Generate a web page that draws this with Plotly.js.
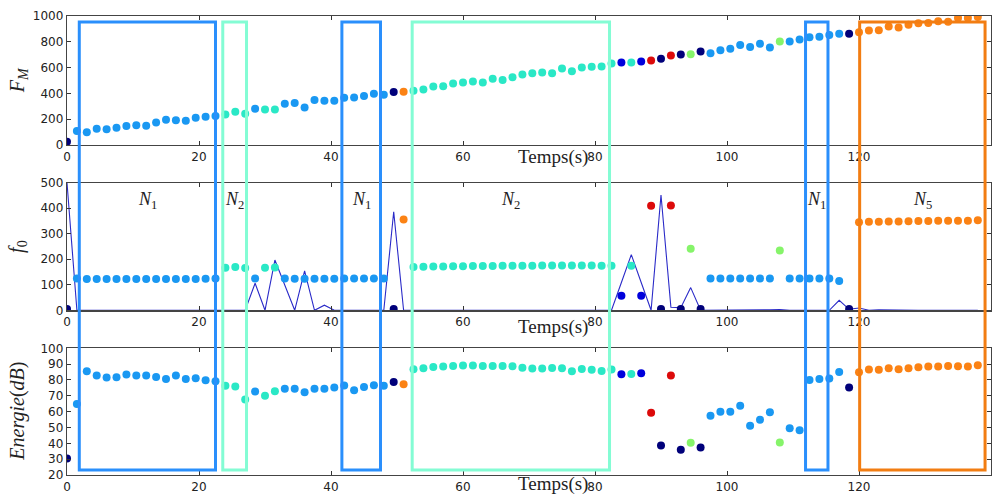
<!DOCTYPE html>
<html>
<head>
<meta charset="utf-8">
<script src="https://cdn.plot.ly/plotly-3.0.1.min.js"></script>
<style>html,body{margin:0;padding:0;background:#fff;}#chart{width:1002px;height:496px;}</style>
</head>
<body>
<div id="chart"></div>
<script>
// ---- data ----
const times = [
  0,1.5,3,4.5,6,7.5,9,10.5,12,13.5,
  15,16.5,18,19.5,21,22.5,24,25.5,27,28.5,
  30,31.5,33,34.5,36,37.5,39,40.5,42,43.5,
  45,46.5,48,49.5,51,52.5,54,55.5,57,58.5,
  60,61.5,63,64.5,66,67.5,69,70.5,72,73.5,
  75,76.5,78,79.5,81,82.5,84,85.5,87,88.5,
  90,91.5,93,94.5,96,97.5,99,100.5,102,103.5,
  105,106.5,108,109.5,111,112.5,114,115.5,117,118.5,
  120,121.5,123,124.5,126,127.5,129,130.5,132,133.5,
  135,136.5,138
];
const fm = [
  26,108,98,126,121,134,147,152,149,175,
  196,191,188,211,219,224,237,258,242,281,
  276,276,320,325,291,348,343,343,366,369,
  379,397,389,410,412,420,430,454,456,477,
  485,492,485,513,503,526,546,557,562,557,
  593,572,601,606,608,631,639,639,647,655,
  668,693,701,704,724,711,735,747,776,760,
  784,755,802,802,817,835,840,853,863,863,
  874,887,889,918,910,933,943,946,959,956,
  985,985,992
];
const f0 = [
  5,125,123,123,123,123,123,123,123,123,
  123,123,123,123,124,125,167,170,166,125,
  167,168,125,124,124,124,124,124,125,125,
  125,125,125,5,356,170,171,172,172,173,
  173,174,174,174,175,175,175,175,176,176,
  176,176,176,176,175,175,57,175,57,410,
  5,411,5,241,5,125,125,125,125,125,
  125,125,234,125,125,125,125,125,115,5,
  345,347,347,348,348,349,350,350,351,351,
  351,351,353
];
const f0raw = [
  500,0,0,0,0,0,0,0,0,0,
  0,0,0,0,0,0,0,0,0,106,
  0,197,98,0,155,0,20,0,0,0,
  0,0,0,386,0,0,0,0,0,0,
  0,0,0,0,0,0,0,0,0,0,
  0,0,0,0,0,0,109,218,109,0,
  452,12,10,89,0,0,0,0,0,0,
  0,2,3,0,0,0,0,0,39,4,
  9,0,2,1,0,0,0,0,0,0,
  0,0,0
];
const energie = [
  30.5,64.9,85.5,82.8,81.5,81.7,83.4,82.8,82.8,81.9,
  80.7,82.8,80.7,81.1,79.8,79.2,76.3,75.9,67.7,72.7,
  70,72.9,74.4,74.4,72.3,74.4,74.4,75.3,76.5,73.5,
  75.6,76.7,76.3,78.8,77.3,86.8,87.4,88.2,88.5,88.9,
  89.1,89.1,88.9,88.9,88.9,88.7,87.8,87.2,87.2,87.6,
  87.4,85.5,87,86.4,85.7,86.6,83.6,83.8,84.3,59.3,
  38.7,82.8,36,40.4,37.4,57.4,59.9,59.9,63.7,51.1,
  54.9,59.7,40.6,49.6,48.3,80,80.7,80.9,85.1,75.2,
  84.9,86.6,86.4,87.4,86.8,87.4,88,88.5,88.5,88.9,
  88.7,88.5,89.3
];
const clusters = [
  0,2,2,2,2,2,2,2,2,2,
  2,2,2,2,2,2,3,3,3,2,
  3,3,2,2,2,2,2,2,2,2,
  2,2,2,0,5,3,3,3,3,3,
  3,3,3,3,3,3,3,3,3,3,
  3,3,3,3,3,3,1,3,1,6,
  0,6,0,4,0,2,2,2,2,2,
  2,2,4,2,2,2,2,2,2,0,
  5,5,5,5,5,5,5,5,5,5,
  5,5,5
];
const segStart = [1.86, 23.6, 41.65, 52.3, 111.9, 120.1];
const segEnd   = [22.5, 27.2, 47.5, 82.2, 115.3, 139.1];
const segLabel = ['1','2','1','2','1','5'];
const segCluster = [2,3,2,3,2,5];
const xTicks = [0,20,40,60,80,100,120,140];

// ---- styles ----
const clusterColors = ['#00007a','#0000dc','#1a98f2','#2ae8c6','#86f46a','#fb8214','#dc0a0a'];
const boxColors = {2:'#2a8ffc', 3:'#84fcd4', 5:'#f27d12'};
const ptColors = clusters.map(c => clusterColors[c]);

const traces = [
  {x: times, y: fm, xaxis:'x', yaxis:'y', mode:'markers', type:'scatter',
   marker:{size:8, color: ptColors}, hoverinfo:'none'},
  {x: times, y: f0raw, xaxis:'x2', yaxis:'y2', mode:'lines', type:'scatter',
   line:{color:'#2a2ac8', width:1.1}, hoverinfo:'none'},
  {x: times, y: f0, xaxis:'x2', yaxis:'y2', mode:'markers', type:'scatter',
   marker:{size:8, color: ptColors}, hoverinfo:'none'},
  {x: times, y: energie, xaxis:'x3', yaxis:'y3', mode:'markers', type:'scatter',
   marker:{size:8, color: ptColors}, hoverinfo:'none'}
];

const tickFont = {family:'DejaVu Sans', size:12, color:'#222'};
function xax(anchor){
  return {anchor: anchor, range:[0,140], tickvals: xTicks, ticks:'inside', ticklen:4, tickwidth:1,
    tickcolor:'#333', showline:true, linecolor:'#444', linewidth:1.2, mirror:'ticks',
    showgrid:false, zeroline:false, tickfont: tickFont, fixedrange:true};
}
function yax(anchor, domain, range, dtick){
  return {anchor: anchor, domain: domain, range: range, dtick: dtick, tick0: range[0], ticks:'inside', ticklen:4,
    tickwidth:1, tickcolor:'#333', showline:true, linecolor:'#444', linewidth:1.2, mirror:'ticks',
    showgrid:false, zeroline:false, tickfont: tickFont, fixedrange:true};
}

const serif = 'Liberation Serif';
const annotations = [];
function ytitle(yy, txt){
  annotations.push({xref:'paper', yref:'paper', x:-0.053, y:yy, xanchor:'center', yanchor:'middle',
    text: txt, showarrow:false, textangle:-90, font:{family:serif, size:20, color:'#222'}});
}
ytitle(0.86, '<i>F</i><sub><i>M</i></sub>');
ytitle(0.497, '<i>f</i><sub>0</sub>');
ytitle(0.138, '<i>Energie</i>(<i>dB</i>)');
// x titles
[0.6935, 0.323, -0.019].forEach(yy => {
  annotations.push({xref:'paper', yref:'paper', x:0.526, y:yy, xanchor:'center', yanchor:'middle',
    text:'Temps(s)', showarrow:false, font:{family:serif, size:19, color:'#222'}});
});
// segment boxes and labels
const shapes = [];
for (let k = 0; k < segStart.length; k++) {
  shapes.push({type:'rect', xref:'x', yref:'paper', x0:segStart[k], x1:segEnd[k], y0:0.011, y1:0.987,
    line:{color: boxColors[segCluster[k]], width:3}, fillcolor:'rgba(0,0,0,0)', layer:'above'});
  annotations.push({xref:'x2', yref:'y2', x:(segStart[k]+segEnd[k])/2, y:432, xanchor:'center', yanchor:'middle',
    text:'<i>N</i><sub>'+segLabel[k]+'</sub>', showarrow:false, font:{family:serif, size:18, color:'#222'}});
}

const layout = {
  width:1002, height:496,
  margin:{l:67, r:11, t:16, b:21},
  paper_bgcolor:'#fff', plot_bgcolor:'#fff',
  showlegend:false,
  xaxis: xax('y'), xaxis2: xax('y2'), xaxis3: xax('y3'),
  yaxis: yax('x', [0.719, 1], [0,1000], 200),
  yaxis2: yax('x2', [0.3588, 0.6368], [0,500], 100),
  yaxis3: yax('x3', [0, 0.276], [20,100], 10),
  shapes: shapes,
  annotations: annotations
};

Plotly.newPlot('chart', traces, layout, {staticPlot:true, displayModeBar:false});
</script>
</body>
</html>
